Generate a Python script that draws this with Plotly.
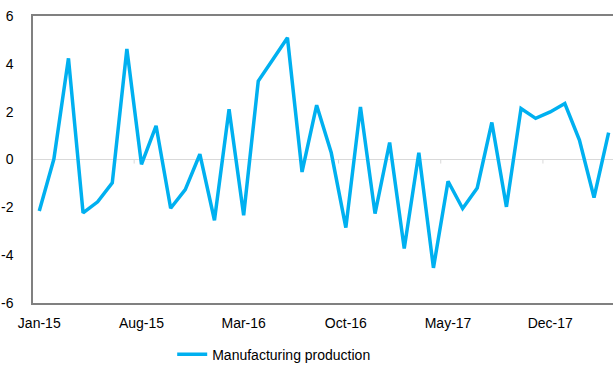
import plotly.graph_objects as go

months = ["Jan-15","Feb-15","Mar-15","Apr-15","May-15","Jun-15","Jul-15","Aug-15","Sep-15","Oct-15","Nov-15","Dec-15",
          "Jan-16","Feb-16","Mar-16","Apr-16","May-16","Jun-16","Jul-16","Aug-16","Sep-16","Oct-16","Nov-16","Dec-16",
          "Jan-17","Feb-17","Mar-17","Apr-17","May-17","Jun-17","Jul-17","Aug-17","Sep-17","Oct-17","Nov-17","Dec-17",
          "Jan-18","Feb-18","Mar-18","Apr-18"]
production = [-2.15, 0.02, 4.23, -2.23, -1.77, -0.98, 4.62, -0.2, 1.41, -2.04, -1.26, 0.22,
              -2.54, 2.1, -2.33, 3.28, 4.18, 5.09, -0.52, 2.27, 0.28, -2.85, 2.2, -2.26,
              0.71, -3.72, 0.28, -4.53, -0.91, -2.05, -1.19, 1.55, -1.98, 2.13, 1.72, 1.99,
              2.34, 0.81, -1.59, 1.12]
tick_every = 7
y_ticks = [-6, -4, -2, 0, 2, 4, 6]
y_ticktext = ["-6", "-4", "-2", "0", "2", "4", "6"]

idx = list(range(len(months)))
tickvals = idx[::tick_every]
ticktext = [months[i] for i in tickvals]

fig = go.Figure()
fig.add_trace(go.Scatter(x=idx, y=production, mode="lines", name="Manufacturing production",
                         line=dict(color="#00B0F0", width=3.5)))

# small category-boundary tick marks on the zero line
for v in tickvals[1:]:
    fig.add_shape(type="line", x0=v - 0.5, x1=v - 0.5, y0=0, y1=-0.17,
                  line=dict(color="#D9D9D9", width=1), layer="below")

fig.update_layout(
    width=613, height=365,
    margin=dict(l=33, r=0, t=16, b=62, autoexpand=False),
    paper_bgcolor="white", plot_bgcolor="white",
    font=dict(family="Liberation Sans, Arial, sans-serif", size=14, color="#000000"),
    showlegend=True,
    legend=dict(orientation="h", x=0.24, xanchor="left", y=-0.18, yanchor="middle",
                font=dict(size=14)),
    xaxis=dict(range=[-0.43, 39.3], tickvals=tickvals, ticktext=ticktext,
               showgrid=False, zeroline=False, showline=True, linecolor="#808080",
               linewidth=1.5, mirror=True, ticks="", ticklabelstandoff=6),
    yaxis=dict(range=[-6, 6], tickvals=y_ticks, ticktext=y_ticktext, showgrid=False,
               zeroline=True, zerolinecolor="#D9D9D9", zerolinewidth=1,
               showline=True, linecolor="#808080", linewidth=1.5, ticks="",
               ticklabelstandoff=15),
)

fig.write_html("out.html")
